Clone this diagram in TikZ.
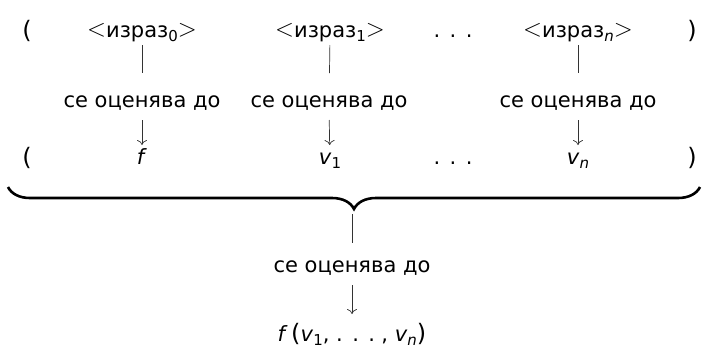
\documentclass[tikz,border=0pt]{standalone}
\usepackage{fontspec}
\setmainfont{DejaVu Sans}
\usetikzlibrary{decorations.pathreplacing,arrows.meta}
\newcommand\sbs[1]{\raisebox{-0.35ex}{\fontsize{15}{17}\selectfont #1}}
\newcommand\mydots{.\hspace{0.45em}.\hspace{0.45em}.}
\newcommand\biglt{\raisebox{0.02em}{\fontsize{30}{30}\selectfont$<$}}
\newcommand\biggt{\raisebox{0.02em}{\fontsize{30}{30}\selectfont$>$}}
\newcommand\bigp[1]{{\fontsize{24}{24}\selectfont #1}}
\begin{document}
\begin{tikzpicture}[x=1pt,y=1pt,yscale=-1,
  font=\fontsize{21}{25}\selectfont,
  txt/.style={inner sep=0pt,anchor=base},
  bar/.style={line width=0.7pt,draw=black!80},
  arr/.style={line width=0.7pt,draw=black!80,-{To[length=5pt,width=10pt]}},
  brc/.style={line width=2.6pt,decorate,decoration={brace,mirror,amplitude=22pt}}]
\useasboundingbox (0,0) rectangle (707,349);
% row 1
\node[txt] (lp1) at (27,38) {\bigp{(}};
\node[txt] (e0) at (142,37) {\biglt израз\sbs{0}\biggt};
\node[txt] (e1) at (330,37) {\biglt израз\sbs{1}\biggt};
\node[txt] (d1) at (453,37) {\mydots};
\node[txt] (en) at (578,37) {\biglt израз\sbs{\itshape n}\biggt};
\node[txt] (rp1) at (692,38) {\bigp{)}};
% labels
\node[txt] (l0) at (142,107) {се оценява до};
\node[txt] (l1) at (329,107) {се оценява до};
\node[txt] (ln) at (578,107) {се оценява до};
% row 2
\node[txt] (lp2) at (27,165) {\bigp{(}};
\node[txt] (f) at (142,164) {\textit{f}};
\node[txt] (v1) at (330,164) {\textit{v}\sbs{1}};
\node[txt] (d2) at (453,164) {\mydots};
\node[txt] (vn) at (578,164) {\textit{v}\sbs{\itshape n}};
\node[txt] (rp2) at (692,165) {\bigp{)}};
% connectors
\foreach \a/\b/\c in {e0/l0/f, e1/l1/v1, en/ln/vn}{
  \draw[bar,shorten <=8pt,shorten >=34pt] (\a.base) -- (\b.base);
  \draw[arr,shorten <=13pt,shorten >=19pt] (\b.base) -- (\c.base);
}
% brace
\coordinate (bl) at (8,187);
\coordinate (br) at (700,187);
\draw[brc] (bl) -- (br);
\coordinate (tip) at (352,214);
\node[txt] (lf) at (352,272) {се оценява до};
\node[txt] (res) at (352,341) {\textit{f}\,\bigp{(}\textit{v}\sbs{1}, \mydots\hspace{0.3em}, \textit{v}\sbs{\itshape n}\bigp{)}};
\draw[bar,shorten >=29pt] (tip) -- (lf.base);
\draw[arr,shorten <=13pt,shorten >=27pt] (lf.base) -- (res.base);
\end{tikzpicture}
\end{document}
